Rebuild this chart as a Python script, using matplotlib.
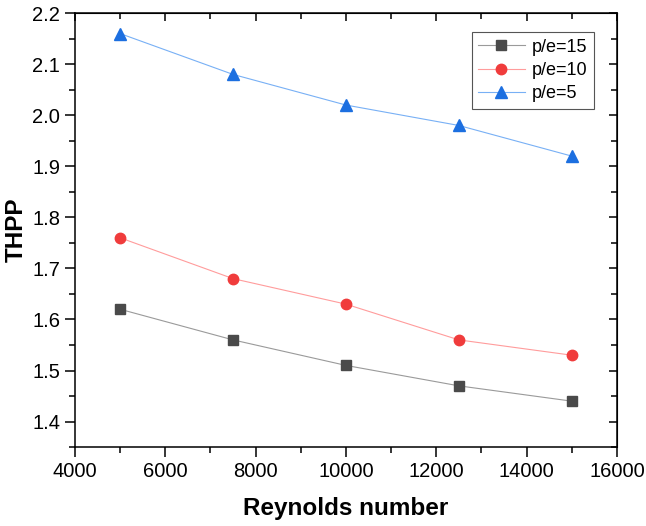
import matplotlib
matplotlib.use("Agg")
import matplotlib.pyplot as plt
from matplotlib.ticker import MultipleLocator, FormatStrFormatter

plt.rcParams['font.family'] = ['Liberation Sans', 'DejaVu Sans']

reynolds = [5000, 7500, 10000, 12500, 15000]
thpp_pe15 = [1.62, 1.56, 1.51, 1.47, 1.44]
thpp_pe10 = [1.76, 1.68, 1.63, 1.56, 1.53]
thpp_pe5 = [2.16, 2.08, 2.02, 1.98, 1.92]

fig = plt.figure(figsize=(6.46, 5.26), dpi=100)
ax = fig.add_axes([0.116, 0.150, 0.839, 0.825])

ax.plot(reynolds, thpp_pe15, color="#9a9a9a", lw=0.8, marker="s", ms=7,
        mfc="#4a4a4a", mec="#4a4a4a", label="p/e=15")
ax.plot(reynolds, thpp_pe10, color="#ff9c9c", lw=0.8, marker="o", ms=7.5,
        mfc="#f03c3c", mec="#f03c3c", label="p/e=10")
ax.plot(reynolds, thpp_pe5, color="#78b0f5", lw=0.8, marker="^", ms=8.5,
        mfc="#1c6fe0", mec="#1c6fe0", label="p/e=5")

ax.set_xlim(4000, 16000)
ax.set_ylim(1.35, 2.2)
ax.xaxis.set_major_locator(MultipleLocator(2000))
ax.xaxis.set_minor_locator(MultipleLocator(1000))
ax.yaxis.set_major_locator(MultipleLocator(0.1))
ax.yaxis.set_minor_locator(MultipleLocator(0.05))
ax.yaxis.set_major_formatter(FormatStrFormatter('%.1f'))

ax.tick_params(which="major", direction="out", length=7, width=1.1, labelsize=14.5)
ax.tick_params(which="minor", direction="out", length=4, width=1.1)

# mirrored ticks on top and right, pointing inward, no labels
top = ax.secondary_xaxis("top")
top.xaxis.set_major_locator(MultipleLocator(2000))
top.xaxis.set_minor_locator(MultipleLocator(1000))
top.tick_params(which="major", direction="in", length=6, width=1.1, labeltop=False)
top.tick_params(which="minor", direction="in", length=4, width=1.1)
right = ax.secondary_yaxis("right")
right.yaxis.set_major_locator(MultipleLocator(0.1))
right.yaxis.set_minor_locator(MultipleLocator(0.05))
right.tick_params(which="major", direction="in", length=6, width=1.1, labelright=False)
right.tick_params(which="minor", direction="in", length=4, width=1.1)

for sp in ax.spines.values():
    sp.set_linewidth(1.1)

ax.set_xlabel("Reynolds number", fontsize=17.5, fontweight="bold", labelpad=12)
ax.set_ylabel("THPP", fontsize=17.5, fontweight="bold", labelpad=3)

leg = ax.legend(loc="upper left", bbox_to_anchor=(0.732, 0.956), fontsize=13,
                fancybox=False, edgecolor="#555555", framealpha=1,
                borderpad=0.35, labelspacing=0.35, handlelength=2.6,
                handletextpad=0.4, borderaxespad=0)
leg.get_frame().set_linewidth(0.8)

fig.savefig("out.png", dpi=100)
